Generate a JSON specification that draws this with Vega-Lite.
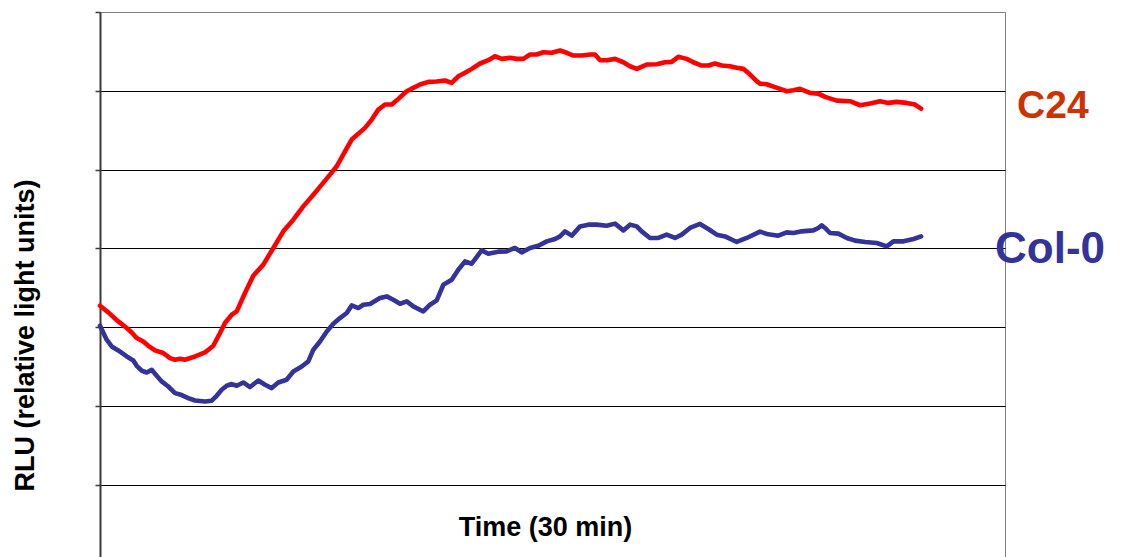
{
  "$schema": "https://vega.github.io/schema/vega-lite/v6.json",
  "width": 905,
  "height": 545,
  "autosize": {"type": "none"},
  "padding": {"left": 100, "top": 12, "right": 116, "bottom": 0},
  "background": "white",
  "config": {
    "view": {"stroke": "#7f7f7f", "strokeWidth": 1},
    "font": "Liberation Sans"
  },
  "data": {
    "values": [
      {"series": "C24", "t": 0, "v": 3.271},
      {"series": "C24", "t": 1.01, "v": 3.186},
      {"series": "C24", "t": 2.22, "v": 3.071},
      {"series": "C24", "t": 3.25, "v": 2.987},
      {"series": "C24", "t": 3.85, "v": 2.931},
      {"series": "C24", "t": 4.46, "v": 2.86},
      {"series": "C24", "t": 5.26, "v": 2.817},
      {"series": "C24", "t": 5.87, "v": 2.762},
      {"series": "C24", "t": 6.69, "v": 2.703},
      {"series": "C24", "t": 7.69, "v": 2.67},
      {"series": "C24", "t": 8.51, "v": 2.606},
      {"series": "C24", "t": 9.12, "v": 2.584},
      {"series": "C24", "t": 9.72, "v": 2.597},
      {"series": "C24", "t": 10.33, "v": 2.584},
      {"series": "C24", "t": 11.55, "v": 2.626},
      {"series": "C24", "t": 12.76, "v": 2.677},
      {"series": "C24", "t": 13.77, "v": 2.762},
      {"series": "C24", "t": 14.59, "v": 2.924},
      {"series": "C24", "t": 15.19, "v": 3.051},
      {"series": "C24", "t": 16.01, "v": 3.156},
      {"series": "C24", "t": 16.62, "v": 3.198},
      {"series": "C24", "t": 17.62, "v": 3.432},
      {"series": "C24", "t": 18.63, "v": 3.652},
      {"series": "C24", "t": 19.85, "v": 3.792},
      {"series": "C24", "t": 21.07, "v": 4.004},
      {"series": "C24", "t": 22.28, "v": 4.215},
      {"series": "C24", "t": 23.5, "v": 4.363},
      {"series": "C24", "t": 24.71, "v": 4.532},
      {"series": "C24", "t": 25.93, "v": 4.681},
      {"series": "C24", "t": 26.95, "v": 4.808},
      {"series": "C24", "t": 27.96, "v": 4.935},
      {"series": "C24", "t": 28.77, "v": 5.041},
      {"series": "C24", "t": 29.78, "v": 5.231},
      {"series": "C24", "t": 30.59, "v": 5.38},
      {"series": "C24", "t": 32.21, "v": 5.529},
      {"series": "C24", "t": 33.03, "v": 5.634},
      {"series": "C24", "t": 33.83, "v": 5.761},
      {"series": "C24", "t": 34.64, "v": 5.825},
      {"series": "C24", "t": 35.46, "v": 5.825},
      {"series": "C24", "t": 36.26, "v": 5.897},
      {"series": "C24", "t": 37.28, "v": 5.994},
      {"series": "C24", "t": 38.08, "v": 6.037},
      {"series": "C24", "t": 38.9, "v": 6.079},
      {"series": "C24", "t": 39.91, "v": 6.113},
      {"series": "C24", "t": 40.93, "v": 6.117},
      {"series": "C24", "t": 41.94, "v": 6.13},
      {"series": "C24", "t": 42.75, "v": 6.1},
      {"series": "C24", "t": 43.55, "v": 6.184},
      {"series": "C24", "t": 44.37, "v": 6.228},
      {"series": "C24", "t": 45.18, "v": 6.278},
      {"series": "C24", "t": 46.19, "v": 6.346},
      {"series": "C24", "t": 47.2, "v": 6.388},
      {"series": "C24", "t": 48.01, "v": 6.438},
      {"series": "C24", "t": 48.83, "v": 6.405},
      {"series": "C24", "t": 49.84, "v": 6.418},
      {"series": "C24", "t": 50.65, "v": 6.405},
      {"series": "C24", "t": 51.45, "v": 6.405},
      {"series": "C24", "t": 52.27, "v": 6.46},
      {"series": "C24", "t": 53.08, "v": 6.46},
      {"series": "C24", "t": 53.88, "v": 6.489},
      {"series": "C24", "t": 54.9, "v": 6.482},
      {"series": "C24", "t": 55.91, "v": 6.511},
      {"series": "C24", "t": 56.73, "v": 6.482},
      {"series": "C24", "t": 57.53, "v": 6.447},
      {"series": "C24", "t": 58.55, "v": 6.447},
      {"series": "C24", "t": 59.56, "v": 6.46},
      {"series": "C24", "t": 60.17, "v": 6.46},
      {"series": "C24", "t": 60.78, "v": 6.388},
      {"series": "C24", "t": 61.59, "v": 6.388},
      {"series": "C24", "t": 62.6, "v": 6.405},
      {"series": "C24", "t": 63.61, "v": 6.362},
      {"series": "C24", "t": 64.42, "v": 6.311},
      {"series": "C24", "t": 65.24, "v": 6.278},
      {"series": "C24", "t": 66.45, "v": 6.333},
      {"series": "C24", "t": 67.66, "v": 6.337},
      {"series": "C24", "t": 68.67, "v": 6.362},
      {"series": "C24", "t": 69.48, "v": 6.367},
      {"series": "C24", "t": 70.29, "v": 6.431},
      {"series": "C24", "t": 71.31, "v": 6.405},
      {"series": "C24", "t": 72.12, "v": 6.362},
      {"series": "C24", "t": 73.14, "v": 6.32},
      {"series": "C24", "t": 73.94, "v": 6.32},
      {"series": "C24", "t": 74.76, "v": 6.346},
      {"series": "C24", "t": 75.57, "v": 6.32},
      {"series": "C24", "t": 76.58, "v": 6.311},
      {"series": "C24", "t": 77.39, "v": 6.291},
      {"series": "C24", "t": 78.2, "v": 6.278},
      {"series": "C24", "t": 79.01, "v": 6.206},
      {"series": "C24", "t": 79.82, "v": 6.121},
      {"series": "C24", "t": 80.22, "v": 6.091},
      {"series": "C24", "t": 81.04, "v": 6.083},
      {"series": "C24", "t": 81.96, "v": 6.049},
      {"series": "C24", "t": 83.47, "v": 5.994},
      {"series": "C24", "t": 84.27, "v": 6.006},
      {"series": "C24", "t": 85.09, "v": 6.024},
      {"series": "C24", "t": 86.3, "v": 5.973},
      {"series": "C24", "t": 87.31, "v": 5.964},
      {"series": "C24", "t": 88.13, "v": 5.922},
      {"series": "C24", "t": 89.55, "v": 5.875},
      {"series": "C24", "t": 91.17, "v": 5.867},
      {"series": "C24", "t": 92.38, "v": 5.816},
      {"series": "C24", "t": 93.6, "v": 5.837},
      {"series": "C24", "t": 94.81, "v": 5.867},
      {"series": "C24", "t": 95.82, "v": 5.846},
      {"series": "C24", "t": 96.84, "v": 5.859},
      {"series": "C24", "t": 98.05, "v": 5.846},
      {"series": "C24", "t": 99.06, "v": 5.825},
      {"series": "C24", "t": 99.8, "v": 5.772},

      {"series": "Col-0", "t": 0, "v": 3.016},
      {"series": "Col-0", "t": 0.81, "v": 2.839},
      {"series": "Col-0", "t": 1.42, "v": 2.753},
      {"series": "Col-0", "t": 2.22, "v": 2.703},
      {"series": "Col-0", "t": 3.25, "v": 2.626},
      {"series": "Col-0", "t": 4.05, "v": 2.576},
      {"series": "Col-0", "t": 4.46, "v": 2.508},
      {"series": "Col-0", "t": 5.07, "v": 2.445},
      {"series": "Col-0", "t": 5.68, "v": 2.423},
      {"series": "Col-0", "t": 6.28, "v": 2.457},
      {"series": "Col-0", "t": 6.89, "v": 2.381},
      {"series": "Col-0", "t": 7.5, "v": 2.309},
      {"series": "Col-0", "t": 8.3, "v": 2.245},
      {"series": "Col-0", "t": 9.12, "v": 2.161},
      {"series": "Col-0", "t": 9.93, "v": 2.136},
      {"series": "Col-0", "t": 10.73, "v": 2.098},
      {"series": "Col-0", "t": 11.55, "v": 2.067},
      {"series": "Col-0", "t": 12.76, "v": 2.055},
      {"series": "Col-0", "t": 13.58, "v": 2.064},
      {"series": "Col-0", "t": 14.18, "v": 2.127},
      {"series": "Col-0", "t": 14.79, "v": 2.203},
      {"series": "Col-0", "t": 15.4, "v": 2.254},
      {"series": "Col-0", "t": 16.01, "v": 2.276},
      {"series": "Col-0", "t": 16.62, "v": 2.254},
      {"series": "Col-0", "t": 17.42, "v": 2.296},
      {"series": "Col-0", "t": 18.23, "v": 2.238},
      {"series": "Col-0", "t": 19.24, "v": 2.321},
      {"series": "Col-0", "t": 20.06, "v": 2.267},
      {"series": "Col-0", "t": 20.87, "v": 2.225},
      {"series": "Col-0", "t": 21.67, "v": 2.296},
      {"series": "Col-0", "t": 22.68, "v": 2.33},
      {"series": "Col-0", "t": 23.5, "v": 2.436},
      {"series": "Col-0", "t": 24.52, "v": 2.499},
      {"series": "Col-0", "t": 25.32, "v": 2.563},
      {"series": "Col-0", "t": 25.93, "v": 2.712},
      {"series": "Col-0", "t": 26.74, "v": 2.817},
      {"series": "Col-0", "t": 27.56, "v": 2.944},
      {"series": "Col-0", "t": 28.36, "v": 3.042},
      {"series": "Col-0", "t": 29.17, "v": 3.114},
      {"series": "Col-0", "t": 29.99, "v": 3.178},
      {"series": "Col-0", "t": 30.59, "v": 3.274},
      {"series": "Col-0", "t": 31.4, "v": 3.241},
      {"series": "Col-0", "t": 32.0, "v": 3.283},
      {"series": "Col-0", "t": 32.82, "v": 3.292},
      {"series": "Col-0", "t": 34.03, "v": 3.368},
      {"series": "Col-0", "t": 34.85, "v": 3.389},
      {"series": "Col-0", "t": 35.65, "v": 3.347},
      {"series": "Col-0", "t": 36.47, "v": 3.296},
      {"series": "Col-0", "t": 37.28, "v": 3.325},
      {"series": "Col-0", "t": 38.08, "v": 3.262},
      {"series": "Col-0", "t": 39.3, "v": 3.198},
      {"series": "Col-0", "t": 40.11, "v": 3.283},
      {"series": "Col-0", "t": 40.93, "v": 3.338},
      {"series": "Col-0", "t": 41.73, "v": 3.537},
      {"series": "Col-0", "t": 42.75, "v": 3.601},
      {"series": "Col-0", "t": 43.55, "v": 3.728},
      {"series": "Col-0", "t": 44.37, "v": 3.834},
      {"series": "Col-0", "t": 45.18, "v": 3.804},
      {"series": "Col-0", "t": 46.39, "v": 3.973},
      {"series": "Col-0", "t": 47.2, "v": 3.931},
      {"series": "Col-0", "t": 48.41, "v": 3.957},
      {"series": "Col-0", "t": 49.43, "v": 3.961},
      {"series": "Col-0", "t": 50.44, "v": 4.004},
      {"series": "Col-0", "t": 51.25, "v": 3.948},
      {"series": "Col-0", "t": 52.27, "v": 4.004},
      {"series": "Col-0", "t": 53.28, "v": 4.033},
      {"series": "Col-0", "t": 54.3, "v": 4.088},
      {"series": "Col-0", "t": 55.31, "v": 4.118},
      {"series": "Col-0", "t": 55.91, "v": 4.151},
      {"series": "Col-0", "t": 56.52, "v": 4.215},
      {"series": "Col-0", "t": 57.34, "v": 4.16},
      {"series": "Col-0", "t": 58.35, "v": 4.278},
      {"series": "Col-0", "t": 59.35, "v": 4.3},
      {"series": "Col-0", "t": 60.37, "v": 4.3},
      {"series": "Col-0", "t": 61.58, "v": 4.287},
      {"series": "Col-0", "t": 62.6, "v": 4.313},
      {"series": "Col-0", "t": 63.61, "v": 4.227},
      {"series": "Col-0", "t": 64.42, "v": 4.3},
      {"series": "Col-0", "t": 65.24, "v": 4.278},
      {"series": "Col-0", "t": 65.84, "v": 4.215},
      {"series": "Col-0", "t": 66.85, "v": 4.131},
      {"series": "Col-0", "t": 67.86, "v": 4.131},
      {"series": "Col-0", "t": 68.88, "v": 4.173},
      {"series": "Col-0", "t": 69.89, "v": 4.131},
      {"series": "Col-0", "t": 70.7, "v": 4.173},
      {"series": "Col-0", "t": 71.71, "v": 4.258},
      {"series": "Col-0", "t": 72.93, "v": 4.309},
      {"series": "Col-0", "t": 73.94, "v": 4.245},
      {"series": "Col-0", "t": 74.96, "v": 4.173},
      {"series": "Col-0", "t": 75.97, "v": 4.151},
      {"series": "Col-0", "t": 77.39, "v": 4.08},
      {"series": "Col-0", "t": 78.61, "v": 4.131},
      {"series": "Col-0", "t": 80.22, "v": 4.211},
      {"series": "Col-0", "t": 81.23, "v": 4.177},
      {"series": "Col-0", "t": 82.45, "v": 4.16},
      {"series": "Col-0", "t": 83.47, "v": 4.202},
      {"series": "Col-0", "t": 84.27, "v": 4.194},
      {"series": "Col-0", "t": 85.29, "v": 4.215},
      {"series": "Col-0", "t": 86.7, "v": 4.227},
      {"series": "Col-0", "t": 87.31, "v": 4.258},
      {"series": "Col-0", "t": 87.72, "v": 4.291},
      {"series": "Col-0", "t": 88.13, "v": 4.258},
      {"series": "Col-0", "t": 88.73, "v": 4.194},
      {"series": "Col-0", "t": 89.75, "v": 4.186},
      {"series": "Col-0", "t": 90.77, "v": 4.131},
      {"series": "Col-0", "t": 91.78, "v": 4.097},
      {"series": "Col-0", "t": 93.0, "v": 4.08},
      {"series": "Col-0", "t": 94.42, "v": 4.067},
      {"series": "Col-0", "t": 95.63, "v": 4.024},
      {"series": "Col-0", "t": 96.44, "v": 4.088},
      {"series": "Col-0", "t": 97.66, "v": 4.088},
      {"series": "Col-0", "t": 98.88, "v": 4.118},
      {"series": "Col-0", "t": 99.8, "v": 4.151}
    ]
  },
  "encoding": {
    "x": {
      "field": "t",
      "type": "quantitative",
      "scale": {"domain": [0, 110], "nice": false, "zero": false},
      "axis": {
        "title": "Time (30 min)",
        "domain": false,
        "ticks": false,
        "labels": false,
        "grid": false,
        "titleFont": "Liberation Sans",
        "titleFontSize": 27,
        "titleFontWeight": "bold",
        "titleColor": "#000000",
        "titleX": 445,
        "titleY": -21.5,
        "titleAlign": "center",
        "titleBaseline": "alphabetic"
      }
    },
    "y": {
      "field": "v",
      "type": "quantitative",
      "scale": {"domain": [0.08, 7], "nice": false, "zero": false},
      "axis": {
        "title": "RLU (relative light units)",
        "values": [1, 2, 3, 4, 5, 6, 7],
        "labels": false,
        "domain": true,
        "domainColor": "#3a3a3a",
        "domainWidth": 2,
        "ticks": true,
        "tickSize": 5,
        "tickColor": "#3a3a3a",
        "tickWidth": 1.5,
        "grid": true,
        "gridColor": {"condition": {"test": "datum.value >= 7", "value": "#7f7f7f"}, "value": "#000000"},
        "gridWidth": 1,
        "titleFont": "Liberation Sans",
        "titleFontSize": 27,
        "titleFontWeight": "bold",
        "titleColor": "#000000",
        "titleAngle": -90,
        "titleX": -67,
        "titleY": 323,
        "titleAlign": "center",
        "titleBaseline": "alphabetic"
      }
    }
  },
  "layer": [
    {
      "mark": {"type": "line", "strokeWidth": 4.6, "strokeCap": "round", "strokeJoin": "round"},
      "encoding": {
        "color": {
          "field": "series",
          "type": "nominal",
          "scale": {"domain": ["C24", "Col-0"], "range": ["#ff0000", "#333399"]},
          "legend": null
        },
        "detail": {"field": "series"}
      }
    },
    {
      "transform": [{"filter": "datum.series === 'C24' && datum.t === 99.8"}],
      "mark": {
        "type": "text",
        "text": "C24",
        "font": "Liberation Sans",
        "fontWeight": "bold",
        "fontSize": 39,
        "color": "#cc3300",
        "align": "left",
        "baseline": "alphabetic",
        "dx": 96,
        "dy": 9
      }
    },
    {
      "transform": [{"filter": "datum.series === 'Col-0' && datum.t === 99.8"}],
      "mark": {
        "type": "text",
        "text": "Col-0",
        "font": "Liberation Sans",
        "fontWeight": "bold",
        "fontSize": 44,
        "color": "#333399",
        "align": "left",
        "baseline": "alphabetic",
        "dx": 74,
        "dy": 26.5
      }
    }
  ]
}
